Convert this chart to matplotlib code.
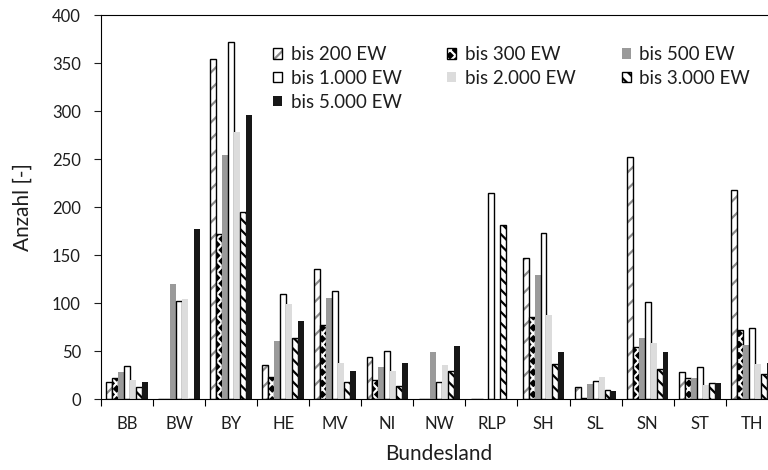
import numpy as np
import matplotlib
matplotlib.use('Agg')
import matplotlib.pyplot as plt
from matplotlib.legend_handler import HandlerTuple

plt.rcParams['font.family'] = ['Lato', 'DejaVu Sans']
plt.rcParams['hatch.linewidth'] = 1.6

# data - Anzahl je Bundesland und Groessenklasse
laender = ['BB', 'BW', 'BY', 'HE', 'MV', 'NI', 'NW', 'RLP', 'SH', 'SL', 'SN', 'ST', 'TH']
bis_200 = [18, 0, 354, 35, 135, 44, 0, 0, 147, 12, 252, 28, 218]
bis_300 = [22, 0, 172, 23, 77, 20, 0, 0, 85, 1, 54, 22, 72]
bis_500 = [28, 120, 254, 60, 105, 33, 49, 0, 129, 16, 64, 22, 56]
bis_1000 = [34, 102, 372, 109, 112, 50, 18, 215, 173, 19, 101, 33, 74]
bis_2000 = [20, 104, 278, 99, 37, 29, 35, 0, 88, 23, 58, 15, 36]
bis_3000 = [12, 0, 195, 64, 18, 14, 29, 181, 36, 9, 31, 17, 26]
bis_5000 = [18, 177, 296, 81, 29, 38, 55, 0, 49, 8, 49, 17, 38]
serien = ['bis 200 EW', 'bis 300 EW', 'bis 500 EW', 'bis 1.000 EW',
          'bis 2.000 EW', 'bis 3.000 EW', 'bis 5.000 EW']
werte = [bis_200, bis_300, bis_500, bis_1000, bis_2000, bis_3000, bis_5000]

# styl: (vypln, hatch, barva hatch, okraj)
styly = [
    ('white', '//', '#8c8c8c', 'black'),
    ('black', 'xxx', 'white', 'black'),
    ('#9a9a9a', None, None, None),
    ('white', None, None, 'black'),
    ('#dcdcdc', None, None, None),
    ('white', '\\\\\\', 'black', 'black'),
    ('#171717', None, None, None),
]
txt = '#1e1e1e'

fig = plt.figure(figsize=(7.68, 4.70), dpi=100)
# osa saha az za pravy okraj obrazku (TH je oriznute jako v originale)
ax = fig.add_axes([101 / 768, 71 / 470, 676.8 / 768, 384 / 470])

x = np.arange(len(laender))
w = 0.8 / len(serien)
handles = []
for j, (nazev, data) in enumerate(zip(serien, werte)):
    fc, hatch, hc, ec = styly[j]
    pos = x + (j - 3) * w
    if hatch:
        b1 = ax.bar(pos, data, w, color=fc, hatch=hatch, edgecolor=hc, linewidth=0)
        b2 = ax.bar(pos, data, w, fill=False, edgecolor=ec, linewidth=1.0)
        handles.append((b1, b2))
    elif ec:
        b1 = ax.bar(pos, data, w, color=fc, edgecolor=ec, linewidth=1.0)
        handles.append(b1)
    else:
        b1 = ax.bar(pos, data, w, color=fc, linewidth=0)
        handles.append(b1)

ax.set_xlim(-0.5, len(laender) - 0.5)
ax.set_ylim(0, 400)
ax.set_yticks(np.arange(0, 401, 50))
ax.set_xticks(np.arange(len(laender) + 1) - 0.5)
ax.set_xticklabels([])
ax.set_xticks(x, minor=True)
ax.set_xticklabels(laender, minor=True)
ax.tick_params(axis='x', which='major', length=5, width=0.8, direction='out')
ax.tick_params(axis='x', which='minor', length=0, pad=12, labelsize=12, colors=txt)
ax.tick_params(axis='y', length=5, width=0.8, pad=9.5, labelsize=12, colors=txt)
for s in ax.spines.values():
    s.set_linewidth(0.8)

fig.text(23 / 768, 1 - 207 / 470, 'Anzahl [-]', rotation=90, ha='center', va='center',
         fontsize=15, color=txt)
fig.text(439 / 768, 1 - 460 / 470, 'Bundesland', ha='center', va='baseline',
         fontsize=15, color=txt)

# poradi pro legendu po radcich (ncol=3 plni po sloupcich)
poradi = [0, 3, 6, 1, 4, 2, 5]
leg = fig.legend([handles[i] for i in poradi], [serien[i] for i in poradi],
                 handler_map={tuple: HandlerTuple(ndivide=1)},
                 ncol=3, loc='upper left', bbox_to_anchor=(273 / 768, 1 - 46 / 470),
                 frameon=False, fontsize=13.5, handlelength=0.48, handleheight=0.48,
                 handletextpad=0.46, columnspacing=2.45, labelspacing=0.36,
                 borderaxespad=0, borderpad=0)
for t in leg.get_texts():
    t.set_color(txt)

fig.savefig('out.png', dpi=100)
